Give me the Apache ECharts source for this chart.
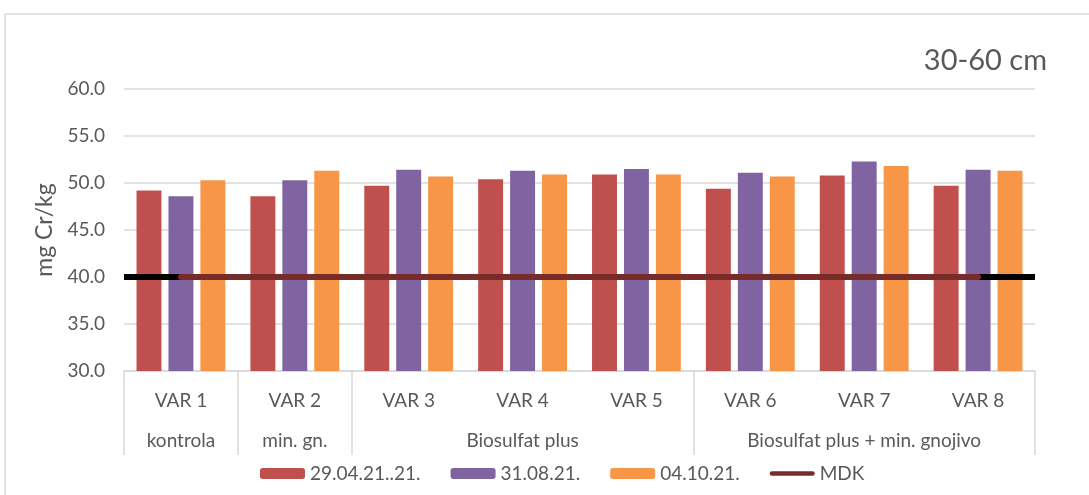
<!DOCTYPE html>
<html>
<head>
<meta charset="utf-8">
<script src="https://cdn.jsdelivr.net/npm/echarts@6/dist/echarts.min.js"></script>
<style>
  html, body { margin: 0; padding: 0; background: #ffffff; }
  #chart { width: 1089px; height: 495px; }
</style>
</head>
<body>
<div id="chart"></div>
<script>
// Chromium content in soil, 30-60 cm layer (mg Cr/kg)
const categories = ['VAR 1', 'VAR 2', 'VAR 3', 'VAR 4', 'VAR 5', 'VAR 6', 'VAR 7', 'VAR 8'];
// treatment group label, placed under the middle variant of each group
const groupLabels = ['kontrola', 'min. gn.', '', 'Biosulfat plus', '', '', 'Biosulfat plus + min. gnojivo', ''];
// first variant index of each treatment group (group separators)
const groupStarts = [0, 1, 2, 5];
const seriesNames = ['29.04.21..21.', '31.08.21.', '04.10.21.'];
const sampling1 = [49.2, 48.6, 49.7, 50.4, 50.9, 49.4, 50.8, 49.7];
const sampling2 = [48.6, 50.3, 51.4, 51.3, 51.5, 51.1, 52.3, 51.4];
const sampling3 = [50.3, 51.3, 50.7, 50.9, 50.9, 50.7, 51.8, 51.3];
const mdkLimit = 40;
const mdk = [40, 40, 40, 40, 40, 40, 40, 40];
const yTicks = { min: 30, max: 60, interval: 5 };

const FONT = 'Lato';
const TEXT = '#595959';
const GRID = '#d9d9d9';
const colors = ['#C0504D', '#8064A2', '#F79646'];
const MDK_COLOR = '#772C2A';

const chart = echarts.init(document.getElementById('chart'));

const barSeries = [sampling1, sampling2, sampling3].map((vals, i) => ({
  name: seriesNames[i],
  type: 'bar',
  data: vals,
  barGap: '28%',
  barCategoryGap: '22%',
  itemStyle: { color: colors[i] },
  z: 2
}));

chart.setOption({
  animation: false,
  textStyle: { fontFamily: FONT },
  graphic: [{
    type: 'rect',
    shape: { x: 5, y: 14, width: 1200, height: 600 },
    style: { fill: 'none', stroke: GRID, lineWidth: 1.5 },
    silent: true,
    z: -1
  }],
  title: {
    text: '30-60 cm',
    right: 37,
    top: 41,
    textStyle: { fontFamily: FONT, fontSize: 29, fontWeight: 'normal', color: TEXT }
  },
  legend: {
    left: 255,
    top: 459,
    itemWidth: 45,
    itemHeight: 11,
    itemGap: 30,
    symbolKeepAspect: true,
    textStyle: { fontFamily: FONT, fontSize: 19, color: TEXT },
    data: [
      seriesNames[0], seriesNames[1], seriesNames[2],
      { name: 'MDK', icon: 'path://M2.5,0 L47.5,0 A2.5,2.5 0 0 1 47.5,5 L2.5,5 A2.5,2.5 0 0 1 2.5,0 Z' }
    ]
  },
  grid: { left: 124, right: 54, top: 89, bottom: 124 },
  xAxis: [{
    type: 'category',
    data: categories,
    axisLine: { lineStyle: { color: GRID, width: 1.5 } },
    axisTick: {
      show: true,
      length: 84,
      interval: (idx) => groupStarts.indexOf(idx) >= 0,
      lineStyle: { color: GRID, width: 1.5 }
    },
    axisLabel: { interval: 0, margin: 20, fontFamily: FONT, fontSize: 19, color: TEXT }
  }, {
    type: 'category',
    data: categories,
    position: 'bottom',
    offset: 40,
    axisLine: { show: false },
    axisTick: { show: false },
    axisLabel: {
      interval: 0, margin: 20, fontFamily: FONT, fontSize: 19, color: TEXT,
      formatter: (v, idx) => groupLabels[idx]
    }
  }],
  yAxis: {
    type: 'value',
    min: yTicks.min,
    max: yTicks.max,
    interval: yTicks.interval,
    name: 'mg Cr/kg',
    nameLocation: 'middle',
    nameGap: 68,
    nameTextStyle: { fontFamily: FONT, fontSize: 23, color: TEXT },
    axisLine: { show: false },
    axisTick: { show: false },
    splitLine: { lineStyle: { color: GRID, width: 1.5 } },
    axisLabel: { margin: 19, fontFamily: FONT, fontSize: 19, color: TEXT, formatter: v => v.toFixed(1) }
  },
  series: barSeries.concat([{
    name: 'limit',
    type: 'line',
    data: [],
    z: 3,
    silent: true,
    markLine: {
      silent: true,
      z: 3,
      symbol: 'none',
      label: { show: false },
      lineStyle: { color: '#000000', width: 6, type: 'solid' },
      data: [{ yAxis: mdkLimit }]
    }
  }, {
    name: 'MDK',
    type: 'line',
    data: mdk,
    symbol: 'none',
    z: 6,
    itemStyle: { color: MDK_COLOR },
    lineStyle: { color: MDK_COLOR, width: 6, cap: 'round' }
  }])
});
</script>
</body>
</html>
